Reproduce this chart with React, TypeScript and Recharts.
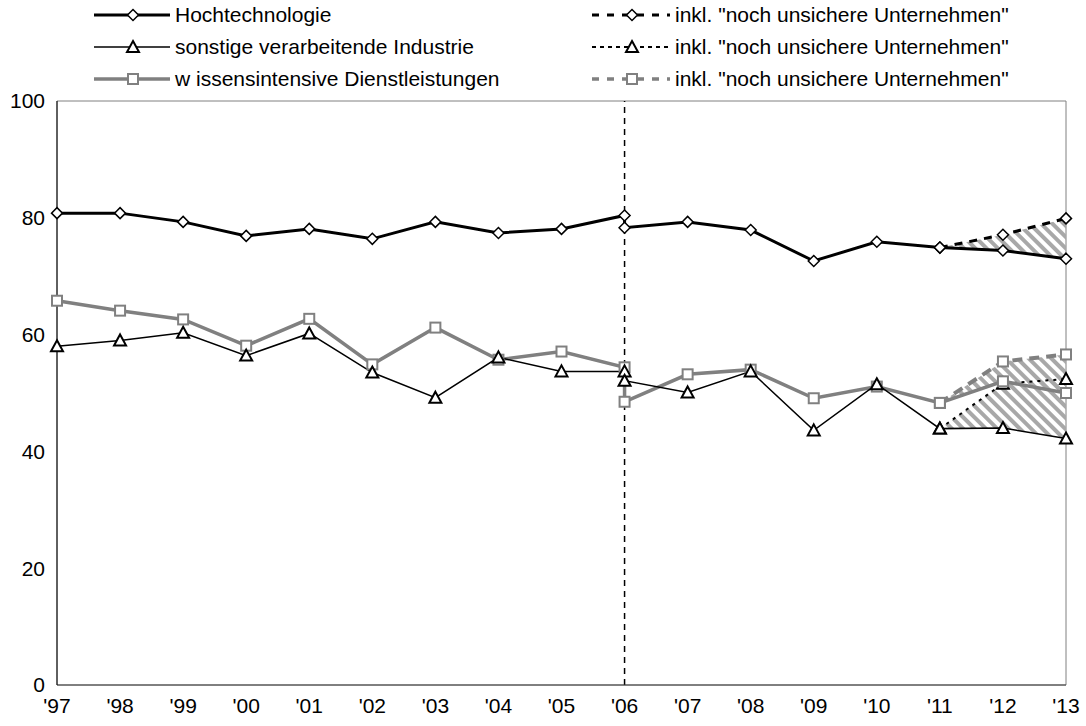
import { ComposedChart, Line, Area, XAxis, YAxis, ReferenceLine, ReferenceArea } from 'recharts'

// ==================== Data ====================

const YEAR_LABELS = ["'97", "'98", "'99", "'00", "'01", "'02", "'03", "'04", "'05", "'06", "'07", "'08", "'09", "'10", "'11", "'12", "'13"]

// '06 shows up twice: the series break at the dashed vertical line
const X_POS = [0, 1, 2, 3, 4, 5, 6, 7, 8, 9, 9, 10, 11, 12, 13, 14, 15, 16]

const HOCH = [80.8, 80.8, 79.3, 76.9, 78.1, 76.4, 79.3, 77.4, 78.1, 80.4, 78.3, 79.3, 77.9, 72.6, 75.9, 74.9, 74.4, 73.0]
const SONST = [58.0, 59.0, 60.3, 56.4, 60.2, 53.5, 49.2, 56.1, 53.7, 53.7, 52.1, 50.1, 53.7, 43.6, 51.5, 43.9, 44.0, 42.2]
const WISS = [65.8, 64.1, 62.6, 58.1, 62.7, 54.9, 61.2, 55.7, 57.1, 54.4, 48.5, 53.2, 54.0, 49.1, 51.1, 48.3, 52.0, 50.0]

// inkl. "noch unsichere Unternehmen", '11 - '13
const INKL_FROM = 15
const HOCH_INKL = [74.9, 77.1, 79.9]
const SONST_INKL = [43.9, 51.6, 52.4]
const WISS_INKL = [48.3, 55.4, 56.6]

const Y_TICKS = [0, 20, 40, 60, 80, 100]

const LEGEND_BASE = ['Hochtechnologie', 'sonstige verarbeitende Industrie', 'w issensintensive Dienstleistungen']
const LEGEND_INKL = 'inkl. "noch unsichere Unternehmen"'

const chartData = X_POS.map((x, i) => {
  const k = i - INKL_FROM
  const has = k >= 0
  return {
    x,
    hoch: HOCH[i],
    sonst: SONST[i],
    wiss: WISS[i],
    hochInkl: has ? HOCH_INKL[k] : null,
    sonstInkl: has ? SONST_INKL[k] : null,
    wissInkl: has ? WISS_INKL[k] : null,
    hochBand: has ? [HOCH[i], HOCH_INKL[k]] : null,
    sonstBand: has ? [SONST[i], SONST_INKL[k]] : null,
    wissBand: has ? [WISS[i], WISS_INKL[k]] : null,
  }
})

// ==================== Styles ====================

const FONT = '"Liberation Sans", Arial, sans-serif'
const GRAY = '#808080'

// ==================== Markers ====================

function diamond(cx: number, cy: number, key?: any) {
  const r = 5.5
  return (
    <polygon key={key} points={`${cx},${cy - r} ${cx + r},${cy} ${cx},${cy + r} ${cx - r},${cy}`}
      fill="#fff" stroke="#000" strokeWidth={1.5} />
  )
}

function triangle(cx: number, cy: number, key?: any) {
  const w = 6, h = 10
  return (
    <polygon key={key} points={`${cx},${cy - h / 2 - 1} ${cx + w},${cy + h / 2} ${cx - w},${cy + h / 2}`}
      fill="#fff" stroke="#000" strokeWidth={2} />
  )
}

function square(cx: number, cy: number, key?: any) {
  const s = 10
  return (
    <rect key={key} x={cx - s / 2} y={cy - s / 2} width={s} height={s}
      fill="#fff" stroke={GRAY} strokeWidth={2} />
  )
}

const dotOf = (fn: typeof diamond) => (p: any) => {
  if (p.cx == null || p.cy == null || p.value == null) return <g key={p.index} />
  return fn(p.cx, p.cy, p.index)
}

// ==================== Legend ====================

function Legend() {
  const rows = [15, 47, 79]
  const left = { x1: 94, x2: 170, m: 133, t: 175 }
  const right = { x1: 592, x2: 670, m: 632, t: 675 }
  const base = [
    { stroke: '#000', w: 3, dash: undefined, mk: diamond },
    { stroke: '#000', w: 1.5, dash: undefined, mk: triangle },
    { stroke: GRAY, w: 3.5, dash: undefined, mk: square },
  ]
  const inkl = [
    { stroke: '#000', w: 3, dash: '7 8', mk: diamond },
    { stroke: '#000', w: 2, dash: '4 4', mk: triangle },
    { stroke: GRAY, w: 3.5, dash: '7 8', mk: square },
  ]
  return (
    <svg width={1086} height={100} style={{ position: 'absolute', left: 0, top: 0 }}>
      {rows.map((y, i) => (
        <g key={i}>
          <line x1={left.x1} x2={left.x2} y1={y} y2={y} stroke={base[i].stroke} strokeWidth={base[i].w} />
          {base[i].mk(left.m, y)}
          <text x={left.t} y={y} dy="0.35em" fontSize={21} fontFamily={FONT} fill="#000">{LEGEND_BASE[i]}</text>
          <line x1={right.x1} x2={right.x2} y1={y} y2={y} stroke={inkl[i].stroke} strokeWidth={inkl[i].w} strokeDasharray={inkl[i].dash} />
          {inkl[i].mk(right.m, y)}
          <text x={right.t} y={y} dy="0.35em" fontSize={21} fontFamily={FONT} fill="#000">{LEGEND_INKL}</text>
        </g>
      ))}
    </svg>
  )
}

// ==================== Chart ====================

export default function App() {
  const tick = { fontSize: 21, fill: '#000', fontFamily: FONT }
  return (
    <div style={{ position: 'absolute', left: 0, top: 0, width: 1086, height: 726, background: '#fff' }}>
      <ComposedChart width={1086} height={726} data={chartData}
        margin={{ top: 101, right: 20, bottom: 0, left: 0 }}>
        <defs>
          <pattern id="hatch" patternUnits="userSpaceOnUse" width={8} height={8} patternTransform="rotate(-45)">
            <rect x={0} y={0} width={4} height={8} fill="#a8a8a8" />
          </pattern>
        </defs>
        <XAxis dataKey="x" type="number" domain={[0, 16]} ticks={YEAR_LABELS.map((_, i) => i)}
          tickFormatter={(v: number) => YEAR_LABELS[v]} interval={0}
          tick={tick} tickLine={false} tickSize={0} tickMargin={13}
          axisLine={{ stroke: '#404040' }} height={41} allowDuplicatedCategory />
        <YAxis type="number" domain={[0, 100]} ticks={Y_TICKS} interval={0}
          tick={tick} tickLine={false} tickSize={0} tickMargin={12}
          axisLine={{ stroke: '#000' }} width={57} />
        <ReferenceArea x1={0} x2={16} y1={0} y2={100} fill="none" stroke={GRAY} strokeWidth={1} />
        <ReferenceLine x={9} stroke="#000" strokeWidth={1.5} strokeDasharray="6 5" />

        <Area dataKey="hochBand" stroke="none" fill="url(#hatch)" fillOpacity={1} isAnimationActive={false} />
        <Area dataKey="sonstBand" stroke="none" fill="url(#hatch)" fillOpacity={1} isAnimationActive={false} />
        <Area dataKey="wissBand" stroke="none" fill="url(#hatch)" fillOpacity={1} isAnimationActive={false} />

        <Line dataKey="wissInkl" stroke={GRAY} strokeWidth={4} strokeDasharray="10 7" dot={dotOf(square)} isAnimationActive={false} />
        <Line dataKey="sonstInkl" stroke="#000" strokeWidth={2} strokeDasharray="3 5" dot={dotOf(triangle)} isAnimationActive={false} />
        <Line dataKey="hochInkl" stroke="#000" strokeWidth={3} strokeDasharray="8 7" dot={dotOf(diamond)} isAnimationActive={false} />

        <Line dataKey="wiss" stroke={GRAY} strokeWidth={3.5} dot={dotOf(square)} isAnimationActive={false} />
        <Line dataKey="sonst" stroke="#000" strokeWidth={1.5} dot={dotOf(triangle)} isAnimationActive={false} />
        <Line dataKey="hoch" stroke="#000" strokeWidth={3} dot={dotOf(diamond)} isAnimationActive={false} />
      </ComposedChart>
      <Legend />
    </div>
  )
}
